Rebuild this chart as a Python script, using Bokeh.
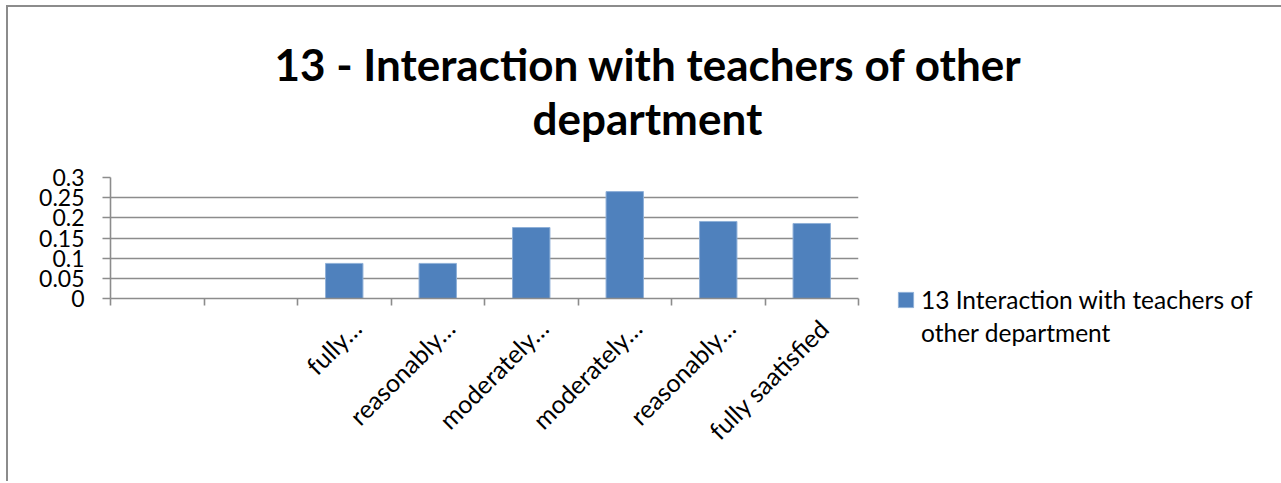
import math
from bokeh.plotting import figure
from bokeh.models import FixedTicker, Legend, LegendItem, Title, Range1d, NumeralTickFormatter
from bokeh.embed import file_html
from bokeh.resources import INLINE

# ---- data ----
categories = ["", "", "fully…", "reasonably…", "moderately…", "moderately…", "reasonably…", "fully saatisfied"]
values = [float("nan"), float("nan"), 0.087, 0.087, 0.176, 0.265, 0.191, 0.186]
y_ticks = [0, 0.05, 0.1, 0.15, 0.2, 0.25, 0.3]
series_label_lines = ["13 Interaction with teachers of", "other department"]
title_lines = ["13 - Interaction with teachers of other", "department"]

FONT = "Lato"
GRID = "#8c8c8c"
BAR = "#4F81BD"
LABEL_SHIFT = 0.13  # rotated category labels sit slightly right of the bar centre

xs = list(range(len(categories)))

p = figure(frame_width=748, frame_height=121, output_backend="svg", toolbar_location=None,
           x_range=Range1d(-0.5, len(categories) - 0.5), y_range=Range1d(0, 0.3),
           min_border_left=102, min_border_top=170, min_border_right=0, min_border_bottom=183)
p.styles = {"border-left": "2px solid #8c8c8c", "border-top": "2px solid #8c8c8c",
            "margin-left": "6px", "margin-top": "5px"}
p.outline_line_color = None
p.background_fill_color = "white"
p.border_fill_color = "white"

r = p.vbar(x=xs, top=values, width=0.4, fill_color=BAR, line_color="#8fb0d8", line_width=1)
# invisible renderer carrying the second legend line
r_blank = p.vbar(x=[], top=[], width=0.4, fill_alpha=0, line_alpha=0)

# x axis
label_ticks = [i + LABEL_SHIFT for i in xs]
p.xaxis.ticker = FixedTicker(ticks=label_ticks, minor_ticks=[i - 0.5 for i in range(len(categories) + 1)])
p.xaxis.major_label_overrides = {t: c for t, c in zip(label_ticks, categories)}
p.xaxis.major_label_orientation = math.pi / 4
p.xaxis.major_tick_in = 0
p.xaxis.major_tick_out = 0
p.xaxis.minor_tick_in = 0
p.xaxis.minor_tick_out = 7
p.xaxis.minor_tick_line_color = GRID
p.xaxis.minor_tick_line_width = 1.6
p.xaxis.axis_line_color = GRID
p.xaxis.axis_line_width = 1.6
p.xaxis.major_label_text_font = FONT
p.xaxis.major_label_text_font_size = "25px"
p.xaxis.major_label_text_color = "black"
p.xaxis.major_label_standoff = 18

# y axis
p.yaxis.ticker = FixedTicker(ticks=y_ticks)
p.yaxis.formatter = NumeralTickFormatter(format="0.[00]")
p.yaxis.major_tick_in = 0
p.yaxis.major_tick_out = 8
p.yaxis.minor_tick_line_color = None
p.yaxis.major_tick_line_color = GRID
p.yaxis.major_tick_line_width = 1.6
p.yaxis.axis_line_color = GRID
p.yaxis.axis_line_width = 1.6
p.yaxis.major_label_text_font = FONT
p.yaxis.major_label_text_font_size = "23px"
p.yaxis.major_label_text_color = "black"
p.yaxis.major_label_standoff = 18

p.xgrid.grid_line_color = None
p.ygrid.grid_line_color = GRID
p.ygrid.grid_line_width = 1.6

# title: spacer nearest the frame, then the two lines outward
p.title.text = ""
p.add_layout(Title(text=" ", text_font_size="1px", standoff=31), "above")
p.add_layout(Title(text=title_lines[1], align="left", offset=422, standoff=0,
                   text_font=FONT, text_font_style="bold", text_font_size="44px",
                   text_color="black"), "above")
p.add_layout(Title(text=title_lines[0], align="left", offset=164, standoff=0,
                   text_font=FONT, text_font_style="bold", text_font_size="44px",
                   text_color="black"), "above")

legend = Legend(items=[LegendItem(label=series_label_lines[0], renderers=[r]),
                       LegendItem(label=series_label_lines[1], renderers=[r_blank])],
                location=(38, -51), padding=0, margin=0, spacing=0, border_line_color=None,
                background_fill_alpha=0, glyph_width=19, glyph_height=19, label_height=33,
                label_standoff=6, label_text_font=FONT, label_text_font_size="24.5px",
                label_text_color="black")
p.add_layout(legend, "right")

open("out.html", "w").write(file_html(p, INLINE))
